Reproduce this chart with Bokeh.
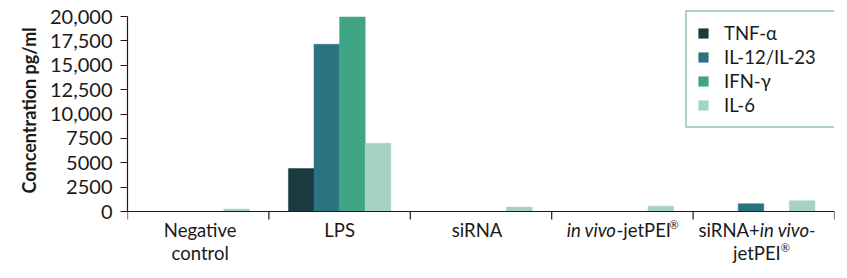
import math
from bokeh.plotting import figure
from bokeh.models import ColumnDataSource, Range1d, FixedTicker, Legend, LegendItem, Label, Title
from bokeh.transform import dodge
from bokeh.embed import file_html
from bokeh.resources import INLINE

categories = ["Negative control", "LPS", "siRNA", "in vivo-jetPEI®", "siRNA+in vivo-jetPEI®"]
series_names = ["TNF-α", "IL-12/IL-23", "IFN-γ", "IL-6"]
tnf = [0, 4400, 0, 0, 0]
il12 = [0, 17150, 0, 0, 800]
ifn = [0, 19950, 0, 0, 0]
il6 = [250, 7000, 450, 550, 1100]
colors = ["#1b3a40", "#2a7480", "#40a585", "#a6d3c1"]
y_ticks = [0, 2500, 5000, 7500, 10000, 12500, 15000, 17500, 20000]
y_tick_labels = ["0", "2500", "5000", "7500", "10,000", "12,500", "15,000", "17,500", "20,000"]
y_title = "Concentration pg/ml"

# category label pieces: (line, text, align, x_offset px, style)
label_parts = [
    [(0, "Negative", "center", 2, "normal"), (1, "control", "center", 2, "normal")],
    [(0, "LPS", "center", 0, "normal")],
    [(0, "siRNA", "center", -4, "normal")],
    [(0, "in vivo", "right", -6, "italic"), (0, "-jetPEI", "left", -6, "normal"), (0, "®", "sup", 47, "normal")],
    [(0, "siRNA+", "right", -4, "normal"), (0, "in vivo-", "left", -4, "italic"),
     (1, "jetPEI", "right", 17, "normal"), (1, "®", "sup", 17, "normal")],
]

FONT = "Lato"
TXT = "#1a1a1a"
Y_MAX = 20000
PX = 195.0  # pixel height of 0..Y_MAX
Y_LO = -Y_MAX * 67 / PX   # room below the baseline for the category labels
Y_HI = Y_MAX + Y_MAX * 11 / PX  # room above for the legend box

centers = [i + 0.5 for i in range(len(categories))]
bounds = [float(i) for i in range(len(categories) + 1)]
src = ColumnDataSource(dict(x=centers, tnf=tnf, il12=il12, ifn=ifn, il6=il6))

p = figure(width=835, height=278, x_range=Range1d(0, len(categories)), y_range=Range1d(Y_LO, Y_HI),
           output_backend="svg", toolbar_location=None, x_axis_location=None,
           min_border_left=127, min_border_right=1, min_border_top=5, min_border_bottom=0)
p.outline_line_color = None
p.grid.visible = False

bw = 0.181
fields = ["tnf", "il12", "ifn", "il6"]
renderers = []
for k, f in enumerate(fields):
    off = (k - 1.5) * bw
    r = p.vbar(x=dodge("x", off), top=f, width=bw, bottom=0, source=src,
               fill_color=colors[k], line_color=colors[k], line_width=0.5)
    renderers.append(r)

# x baseline and category boundary ticks
p.hspan(y=[0], line_color=TXT, line_width=1.2)
p.ray(x=bounds, y=[0] * len(bounds), length=8, length_units="screen", angle=-math.pi / 2,
      line_color=TXT, line_width=1.2)

# y axis
ya = p.yaxis[0]
ya.ticker = FixedTicker(ticks=y_ticks)
ya.bounds = (0, Y_MAX)
ya.major_label_overrides = {t: l for t, l in zip(y_ticks, y_tick_labels)}
ya.major_tick_out = 7
ya.major_tick_in = 0
ya.minor_tick_line_color = None
ya.axis_line_color = TXT
ya.axis_line_width = 1.2
ya.major_tick_line_color = TXT
ya.major_tick_line_width = 1.2
ya.major_label_text_font = FONT
ya.major_label_text_font_size = "20px"
ya.major_label_text_color = TXT
ya.major_label_standoff = 8

p.add_layout(Title(text=y_title, align="left", offset=85, standoff=14,
                   text_font=FONT, text_font_size="18px", text_font_style="bold",
                   text_color=TXT), "left")

# category labels
LINE_Y = [-7, -30]
for c, parts in zip(centers, label_parts):
    for line, text, align, xoff, style in parts:
        if align == "sup":
            p.add_layout(Label(x=c, y=0, text=text, text_align="left", text_baseline="top",
                               x_offset=xoff, y_offset=LINE_Y[line] + 1,
                               text_font=FONT, text_font_size="11px", text_color=TXT))
        else:
            p.add_layout(Label(x=c, y=0, text=text, text_align=align, text_baseline="top",
                               x_offset=xoff, y_offset=LINE_Y[line],
                               text_font=FONT, text_font_size="18.5px", text_font_style=style,
                               text_color=TXT))

legend = Legend(items=[LegendItem(label=n, renderers=[r]) for n, r in zip(series_names, renderers)],
                location=(558, 150), orientation="vertical")
legend.border_line_color = "#5f9ea0"
legend.border_line_width = 2
legend.background_fill_color = "white"
legend.background_fill_alpha = 1
legend.label_text_font = FONT
legend.label_text_font_size = "18.5px"
legend.label_text_color = TXT
legend.glyph_width = 12
legend.glyph_height = 12
legend.label_height = 20
legend.label_width = 140
legend.spacing = 2
legend.padding = 10
legend.margin = 0
legend.label_standoff = 15
p.add_layout(legend)

open("out.html", "w").write(file_html(p, INLINE))
